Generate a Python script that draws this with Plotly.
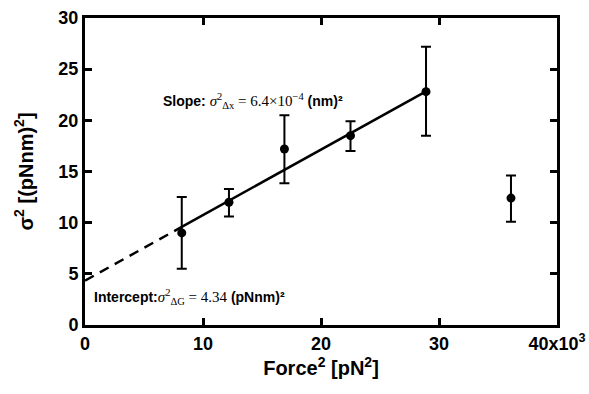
import plotly.graph_objects as go

# Data (x in units of 10^3 pN^2)
force2 = [8.2, 12.2, 16.9, 22.5, 28.9, 36.1]
sigma2 = [9.0, 12.0, 17.2, 18.5, 22.8, 12.4]
err_plus = [3.5, 1.3, 3.3, 1.4, 4.4, 2.2]
err_minus = [3.5, 1.4, 3.35, 1.5, 4.3, 2.3]

intercept = 4.34
slope = 0.64  # per 10^3 pN^2  (6.4e-4 nm^2)
fit_solid_x = [8.2, 28.9]
fit_dash_x = [0, 8.2]

x_ticks = [0, 10, 20, 30, 40]
x_ticktext = ["0", "10", "20", "30", "40x10<sup>3</sup>"]
y_ticks = [0, 5, 10, 15, 20, 25, 30]

fig = go.Figure()

fig.add_trace(go.Scatter(
    x=fit_dash_x, y=[intercept + slope * v for v in fit_dash_x],
    mode="lines", line=dict(color="black", width=2.5, dash="10px,7px"),
    showlegend=False, hoverinfo="skip"))
fig.add_trace(go.Scatter(
    x=fit_solid_x, y=[intercept + slope * v for v in fit_solid_x],
    mode="lines", line=dict(color="black", width=2.5),
    showlegend=False, hoverinfo="skip"))
fig.add_trace(go.Scatter(
    x=force2, y=sigma2, mode="markers",
    marker=dict(color="black", size=9),
    error_y=dict(type="data", array=err_plus, arrayminus=err_minus,
                 color="black", thickness=2, width=5),
    showlegend=False))

ann_font = dict(family="Liberation Sans, Arial, sans-serif", size=14, color="black")
serif = "font-family:'Liberation Serif', 'Times New Roman', serif;font-size:15px"
fig.add_annotation(
    x=6.4, y=21.9, xref="x", yref="y", xanchor="left", yanchor="middle",
    showarrow=False, font=ann_font,
    text=("<b>Slope: </b><span style=\"" + serif + "\"><i>σ</i><sup>2</sup><sub>Δx</sub> = 6.4×10<sup>−4</sup></span>"
          "<b> (nm)²</b>"))
fig.add_annotation(
    x=0.6, y=2.7, xref="x", yref="y", xanchor="left", yanchor="middle",
    showarrow=False, font=ann_font,
    text=("<b>Intercept:</b><span style=\"" + serif + "\"><i>σ</i><sup>2</sup><sub>ΔG</sub> = 4.34</span>"
          "<b> (pNnm)²</b>"))

axis_common = dict(
    showline=True, linecolor="black", linewidth=3, mirror="ticks",
    ticks="inside", ticklen=7, tickwidth=2.5, tickcolor="black",
    showgrid=False, zeroline=False, automargin=False,
    tickfont=dict(family="Liberation Sans, Arial, sans-serif", size=18, color="black", weight="bold"),
)

fig.update_xaxes(
    range=[0, 40], tickvals=x_ticks, ticktext=x_ticktext,
    title=dict(text="<b>Force<sup>2</sup> [pN<sup>2</sup>]</b>", standoff=9,
               font=dict(family="Liberation Sans, Arial, sans-serif", size=20, color="black")),
    **axis_common)
fig.update_yaxes(
    range=[0, 30], tickvals=y_ticks,
    title=dict(text="<b>σ<sup>2</sup> [(pNnm)<sup>2</sup>]</b>", standoff=20,
               font=dict(family="Liberation Sans, Arial, sans-serif", size=20, color="black")),
    **axis_common)

fig.update_layout(
    width=589, height=394,
    margin=dict(l=85, r=32, t=18, b=69),
    paper_bgcolor="white", plot_bgcolor="white",
)

# remove the default page margin so the figure fills the window exactly
fig.write_html(
    "out.html",
    config={"displayModeBar": False},
    post_script="document.body.style.margin='0';document.body.style.overflow='hidden';",
)
